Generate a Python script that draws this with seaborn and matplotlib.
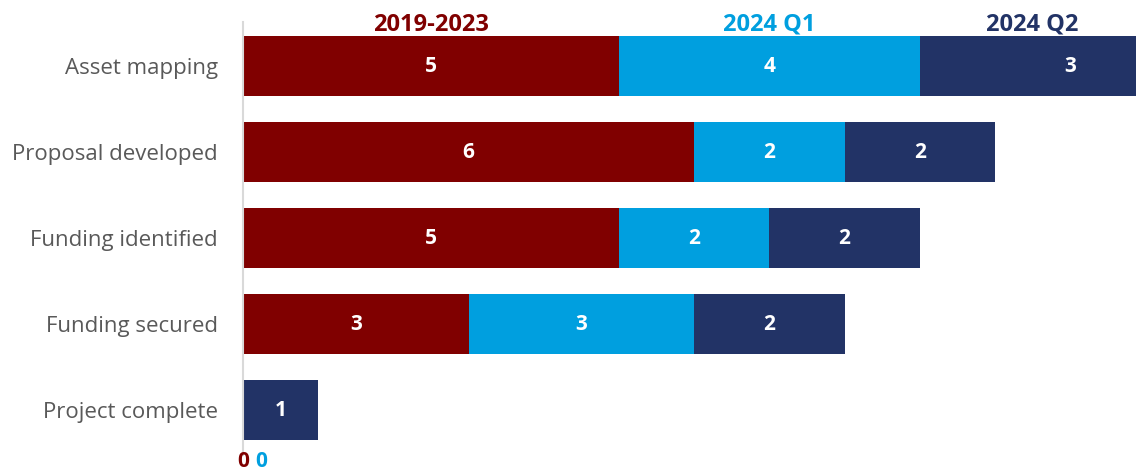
import matplotlib
matplotlib.use("Agg")
import matplotlib.pyplot as plt
import seaborn as sns
import numpy as np
import pandas as pd
from matplotlib.transforms import offset_copy

categories = ["Asset mapping", "Proposal developed", "Funding identified",
              "Funding secured", "Project complete"]
series_names = ["2019-2023", "2024 Q1", "2024 Q2"]
v_2019_2023 = [5, 6, 5, 3, 0]
v_2024_q1 = [4, 2, 2, 3, 0]
v_2024_q2 = [3, 2, 2, 2, 1]
colors = ["#800000", "#009FDF", "#223366"]

sns.set_theme(style="white")
plt.rcParams["font.family"] = ["Open Sans", "DejaVu Sans"]

vals = np.array([v_2019_2023, v_2024_q1, v_2024_q2], dtype=float)
cum = np.cumsum(vals, axis=0)

fig = plt.figure(figsize=(11.36, 4.75), dpi=100)
W, H = 1136, 475
ax = fig.add_axes([243 / W, (H - 455) / H, 1 - 243 / W, (455 - 22) / H])

# draw cumulative totals, largest first, so stacks appear
for i in reversed(range(3)):
    df = pd.DataFrame({"cat": categories, "val": cum[i]})
    sns.barplot(data=df, y="cat", x="val", orient="h", color=colors[i],
                saturation=1, width=0.70, ax=ax, linewidth=0)

ax.set_xlim(0, 893 / 75.2)
ax.set_ylim(4.52, -0.512)
ax.set_xlabel("")
ax.set_ylabel("")
ax.set_xticks([])
for s in ["top", "right", "bottom"]:
    ax.spines[s].set_visible(False)
ax.spines["left"].set_color("#D9D9D9")
ax.spines["left"].set_linewidth(1.5)
ax.tick_params(axis="y", length=0, pad=18, labelsize=16, labelcolor="#595959")

xmax = ax.get_xlim()[1]
# segment value labels
for j in range(len(categories)):
    start = 0.0
    for i in range(3):
        v = vals[i, j]
        if v > 0:
            end = start + v
            center = (start + end) / 2
            if end > xmax:
                center += 0.5
            ax.text(center, j, f"{int(v)}", ha="center", va="center",
                    color="white", fontsize=15, fontweight="bold")
        start += v

# series headers above the first bar
start = 0.0
for i in range(3):
    v = vals[i, 0]
    end = start + v
    center = (start + min(end, xmax + 0.25)) / 2 if end > xmax else (start + end) / 2
    ax.text(center, -0.41, series_names[i], ha="center", va="baseline",
            color=colors[i], fontsize=17, fontweight="bold", clip_on=False)
    start = end

# zero labels for the last category
last = len(categories) - 1
zero_offsets = [0, 18.5]
k = 0
for i in range(3):
    if vals[i, last] == 0:
        tr = offset_copy(ax.transData, fig=fig, x=zero_offsets[k] * 0.72, y=0, units="points")
        ax.text(0, 4.6, "0", transform=tr, ha="center", va="center",
                color=colors[i], fontsize=15, fontweight="bold", clip_on=False)
        k += 1

fig.savefig("out.png", dpi=100)
